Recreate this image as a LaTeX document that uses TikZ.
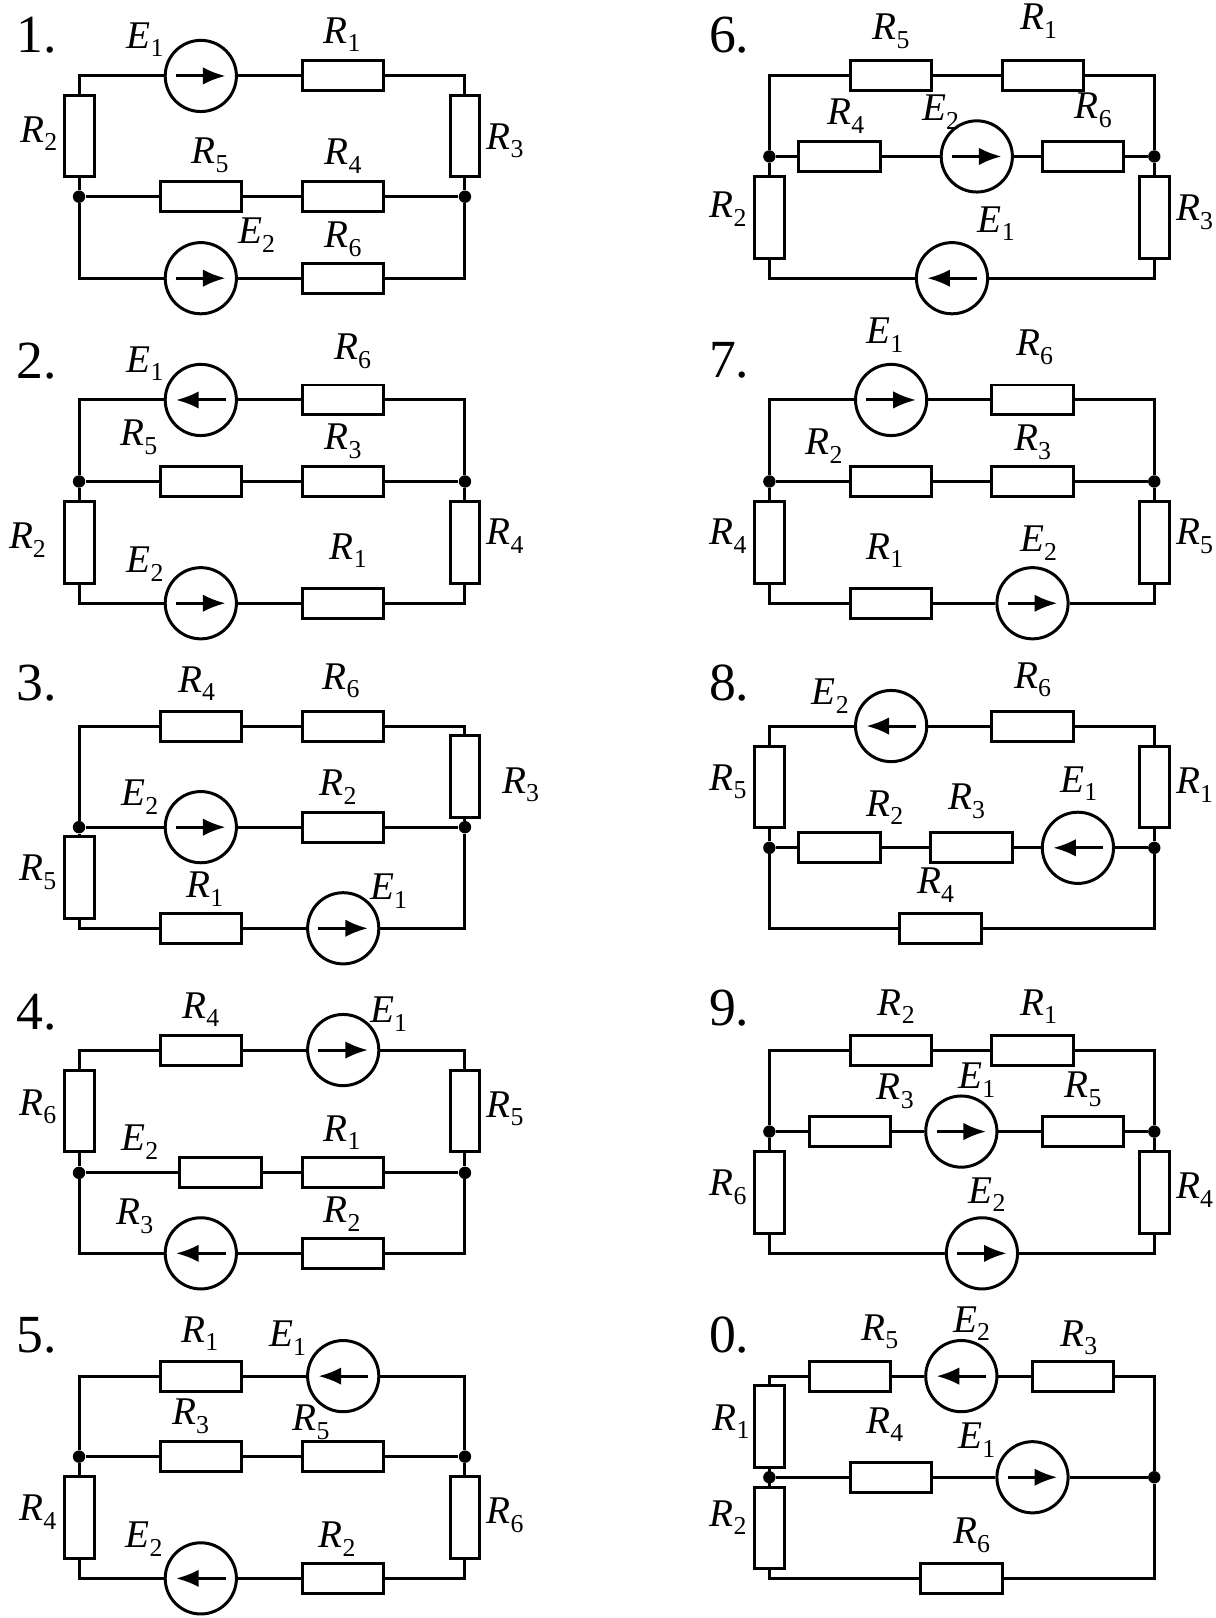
\documentclass[tikz,border=0pt]{standalone}
\usepackage{fontspec}
\setmainfont{Liberation Serif}
\usetikzlibrary{arrows.meta}
\tikzset{
  wire/.style={line width=1.45pt,line join=miter},
  resh/.style={draw,line width=1.45pt,rectangle,minimum width=39.5pt,minimum height=14.5pt,inner sep=0pt,fill=white},
  resv/.style={draw,line width=1.45pt,rectangle,minimum width=14.5pt,minimum height=39.5pt,inner sep=0pt,fill=white},
  srcc/.style={draw,line width=1.45pt,circle,minimum size=34.5pt,inner sep=0pt,fill=white},
  jdot/.style={circle,fill=black,minimum size=6pt,inner sep=0pt},
  srcarrow/.style={line width=1.45pt,-{Latex[length=11pt,width=8.5pt]}},
  lab/.style={inner sep=0pt,yshift=-0.5pt,font=\fontsize{19}{19}\selectfont},
  numlab/.style={inner sep=0pt,font=\fontsize{26}{26}\selectfont}
}
\newcommand{\RH}[3]{\node[resh] (#1) at (#2,#3) {};}
\newcommand{\RV}[3]{\node[resv] (#1) at (#2,#3) {};}
\newcommand{\SR}[3]{\node[srcc] (#1) at (#2,#3) {};
  \draw[srcarrow] ([xshift=-12pt]#1.center) -- ([xshift=12pt]#1.center);}
\newcommand{\SL}[3]{\node[srcc] (#1) at (#2,#3) {};
  \draw[srcarrow] ([xshift=12pt]#1.center) -- ([xshift=-12pt]#1.center);}
\newcommand{\JD}[3]{\node[jdot] (#1) at (#2,#3) {};}
\newcommand{\LB}[5]{\node[lab] (#1#4#5) at (#2,#3) {\textit{#4}\raisebox{-0.22em}{\fontsize{12.5}{12.5}\selectfont #5}};}
\newcommand{\NM}[4]{\node[numlab] (#1) at (#2,#3) {#4.};}
\newcommand{\WL}[2]{\draw[wire] (#1) -- (#2);}
\newcommand{\WV}[2]{\draw[wire] (#1) |- (#2);}
\newcommand{\WH}[2]{\draw[wire] (#1) -| (#2);}
\begin{document}
\begin{tikzpicture}[x=0.5pt,y=-0.5pt]
\path[use as bounding box,fill=white] (-0.6,-0.6) rectangle (1177.8,1567.4);
% ---- 1
\RV{aRb}{76}{131}\RV{aRc}{450}{131}\SR{aEa}{194}{73}\RH{aRa}{332}{73}
\JD{aJa}{76}{190}\JD{aJb}{450}{190}\RH{aRe}{194}{190}\RH{aRd}{332}{190}
\SR{aEb}{194}{269}\RH{aRf}{332}{269}
\WV{aRb.north}{aEa.west}\WL{aEa.east}{aRa.west}\WH{aRa.east}{aRc.north}
\WL{aRb.south}{aJa}\WL{aRc.south}{aJb}\WL{aJa}{aRe.west}\WL{aRe.east}{aRd.west}\WL{aRd.east}{aJb}
\WV{aJa}{aEb.west}\WL{aEb.east}{aRf.west}\WH{aRf.east}{aJb}
\NM{an}{35}{33}{1}\LB{a}{140}{37}{E}{1}\LB{a}{331}{32}{R}{1}\LB{a}{37}{128}{R}{2}\LB{a}{489}{135}{R}{3}
\LB{a}{203}{149}{R}{5}\LB{a}{332}{150}{R}{4}\LB{a}{248}{226}{E}{2}\LB{a}{332}{230}{R}{6}
% ---- 2
\SL{bEa}{194}{387}\RH{bRf}{332}{387}\JD{bJa}{76}{466}\JD{bJb}{450}{466}
\RH{bRe}{194}{466}\RH{bRc}{332}{466}\RV{bRb}{76}{525}\RV{bRd}{450}{525}
\SR{bEb}{194}{584}\RH{bRa}{332}{584}
\WV{bJa}{bEa.west}\WL{bEa.east}{bRf.west}\WH{bRf.east}{bJb}
\WL{bJa}{bRe.west}\WL{bRe.east}{bRc.west}\WL{bRc.east}{bJb}
\WL{bJa}{bRb.north}\WL{bJb}{bRd.north}
\WV{bRb.south}{bEb.west}\WL{bEb.east}{bRa.west}\WH{bRa.east}{bRd.south}
\NM{bn}{35}{349}{2}\LB{b}{140}{351}{E}{1}\LB{b}{341}{339}{R}{6}\LB{b}{134}{422}{R}{5}\LB{b}{332}{426}{R}{3}
\LB{b}{26}{522}{R}{2}\LB{b}{489}{518}{R}{4}\LB{b}{140}{545}{E}{2}\LB{b}{337}{532}{R}{1}
% ---- 3
\RH{cRd}{194}{703}\RH{cRf}{332}{703}\RV{cRc}{450}{752}\JD{cJa}{76}{801}\JD{cJb}{450}{801}
\SR{cEb}{194}{801}\RH{cRb}{332}{801}\RV{cRe}{76}{850}\RH{cRa}{194}{899}\SR{cEa}{332}{899}
\WV{cJa}{cRd.west}\WL{cRd.east}{cRf.west}\WH{cRf.east}{cRc.north}\WL{cRc.south}{cJb}
\WL{cJa}{cEb.west}\WL{cEb.east}{cRb.west}\WL{cRb.east}{cJb}\WL{cJa}{cRe.north}
\WV{cRe.south}{cRa.west}\WL{cRa.east}{cEa.west}\WH{cEa.east}{cJb}
\NM{cn}{35}{661}{3}\LB{c}{190}{661}{R}{4}\LB{c}{330}{658}{R}{6}\LB{c}{504}{759}{R}{3}\LB{c}{135}{771}{E}{2}
\LB{c}{327}{761}{R}{2}\LB{c}{36}{844}{R}{5}\LB{c}{198}{860}{R}{1}\LB{c}{376}{862}{E}{1}
% ---- 4
\RH{dRd}{194}{1017}\SR{dEa}{332}{1017}\RV{dRf}{76}{1076}\RV{dRe}{450}{1076}\JD{dJa}{76}{1136}\JD{dJb}{450}{1136}
\RH{dRx}{213}{1136}\RH{dRa}{332}{1136}\SL{dEb}{194}{1214}\RH{dRb}{332}{1214}
\WV{dRf.north}{dRd.west}\WL{dRd.east}{dEa.west}\WH{dEa.east}{dRe.north}
\WL{dRf.south}{dJa}\WL{dRe.south}{dJb}\WL{dJa}{dRx.west}\WL{dRx.east}{dRa.west}\WL{dRa.east}{dJb}
\WV{dJa}{dEb.west}\WL{dEb.east}{dRb.west}\WH{dRb.east}{dJb}
\NM{dn}{35}{980}{4}\LB{d}{194}{977}{R}{4}\LB{d}{376}{981}{E}{1}\LB{d}{36}{1071}{R}{6}\LB{d}{489}{1073}{R}{5}
\LB{d}{135}{1105}{E}{2}\LB{d}{331}{1096}{R}{1}\LB{d}{130}{1177}{R}{3}\LB{d}{331}{1175}{R}{2}
% ---- 5
\RH{eRa}{194}{1333}\SL{eEa}{332}{1333}\JD{eJa}{76}{1411}\JD{eJb}{450}{1411}\RH{eRc}{194}{1411}\RH{eRe}{332}{1411}
\RV{eRd}{76}{1470}\RV{eRf}{450}{1470}\SL{eEb}{194}{1529}\RH{eRb}{332}{1529}
\WV{eJa}{eRa.west}\WL{eRa.east}{eEa.west}\WH{eEa.east}{eJb}
\WL{eJa}{eRc.west}\WL{eRc.east}{eRe.west}\WL{eRe.east}{eJb}\WL{eJa}{eRd.north}\WL{eJb}{eRf.north}
\WV{eRd.south}{eEb.west}\WL{eEb.east}{eRb.west}\WH{eRb.east}{eRf.south}
\NM{en}{35}{1293}{5}\LB{e}{193}{1291}{R}{1}\LB{e}{278}{1295}{E}{1}\LB{e}{184}{1371}{R}{3}\LB{e}{301}{1377}{R}{5}
\LB{e}{36}{1464}{R}{4}\LB{e}{489}{1467}{R}{6}\LB{e}{139}{1490}{E}{2}\LB{e}{326}{1490}{R}{2}
% ---- 6
\RH{fRe}{863}{73}\RH{fRa}{1010}{73}\JD{fJa}{745}{151}\JD{fJb}{1118}{151}\RH{fRd}{813}{151}\SR{fEb}{946}{151}\RH{fRf}{1049}{151}
\RV{fRb}{745}{210}\RV{fRc}{1118}{210}\SL{fEa}{922}{269}
\WV{fJa}{fRe.west}\WL{fRe.east}{fRa.west}\WH{fRa.east}{fJb}
\WL{fJa}{fRd.west}\WL{fRd.east}{fEb.west}\WL{fEb.east}{fRf.west}\WL{fRf.east}{fJb}
\WL{fJa}{fRb.north}\WL{fJb}{fRc.north}\WV{fRb.south}{fEa.west}\WH{fEa.east}{fRc.south}
\NM{fn}{706}{33}{6}\LB{f}{863}{29}{R}{5}\LB{f}{1006}{19}{R}{1}\LB{f}{819}{111}{R}{4}\LB{f}{911}{107}{E}{2}
\LB{f}{1059}{105}{R}{6}\LB{f}{705}{201}{R}{2}\LB{f}{1157}{204}{R}{3}\LB{f}{965}{215}{E}{1}
% ---- 7
\SR{gEa}{863}{387}\RH{gRf}{1000}{387}\JD{gJa}{745}{466}\JD{gJb}{1118}{466}\RH{gRb}{863}{466}\RH{gRc}{1000}{466}
\RV{gRd}{745}{525}\RV{gRe}{1118}{525}\RH{gRa}{863}{584}\SR{gEb}{1000}{584}
\WV{gJa}{gEa.west}\WL{gEa.east}{gRf.west}\WH{gRf.east}{gJb}
\WL{gJa}{gRb.west}\WL{gRb.east}{gRc.west}\WL{gRc.east}{gJb}\WL{gJa}{gRd.north}\WL{gJb}{gRe.north}
\WV{gRd.south}{gRa.west}\WL{gRa.east}{gEb.west}\WH{gEb.east}{gRe.south}
\NM{gn}{706}{349}{7}\LB{g}{857}{323}{E}{1}\LB{g}{1002}{335}{R}{6}\LB{g}{798}{431}{R}{2}\LB{g}{1000}{427}{R}{3}
\LB{g}{705}{518}{R}{4}\LB{g}{1157}{518}{R}{5}\LB{g}{857}{532}{R}{1}\LB{g}{1006}{525}{E}{2}
% ---- 8
\SL{hEb}{863}{703}\RH{hRf}{1000}{703}\RV{hRe}{745}{762}\RV{hRa}{1118}{762}\JD{hJa}{745}{821}\JD{hJb}{1118}{821}
\RH{hRb}{813}{821}\RH{hRc}{941}{821}\SL{hEa}{1044}{821}\RH{hRd}{911}{899}
\WV{hRe.north}{hEb.west}\WL{hEb.east}{hRf.west}\WH{hRf.east}{hRa.north}
\WL{hRe.south}{hJa}\WL{hRa.south}{hJb}\WL{hJa}{hRb.west}\WL{hRb.east}{hRc.west}\WL{hRc.east}{hEa.west}\WL{hEa.east}{hJb}
\WV{hJa}{hRd.west}\WH{hRd.east}{hJb}
\NM{hn}{706}{661}{8}\LB{h}{804}{673}{E}{2}\LB{h}{1000}{657}{R}{6}\LB{h}{705}{756}{R}{5}\LB{h}{1157}{759}{R}{1}
\LB{h}{857}{781}{R}{2}\LB{h}{936}{775}{R}{3}\LB{h}{1045}{758}{E}{1}\LB{h}{906}{856}{R}{4}
% ---- 9
\RH{iRb}{863}{1017}\RH{iRa}{1000}{1017}\JD{iJa}{745}{1096}\JD{iJb}{1118}{1096}\RH{iRc}{823}{1096}\SR{iEa}{931}{1096}\RH{iRe}{1049}{1096}
\RV{iRf}{745}{1155}\RV{iRd}{1118}{1155}\SR{iEb}{951}{1214}
\WV{iJa}{iRb.west}\WL{iRb.east}{iRa.west}\WH{iRa.east}{iJb}
\WL{iJa}{iRc.west}\WL{iRc.east}{iEa.west}\WL{iEa.east}{iRe.west}\WL{iRe.east}{iJb}
\WL{iJa}{iRf.north}\WL{iJb}{iRd.north}\WV{iRf.south}{iEb.west}\WH{iEb.east}{iRd.south}
\NM{in}{706}{976}{9}\LB{i}{868}{974}{R}{2}\LB{i}{1006}{974}{R}{1}\LB{i}{867}{1056}{R}{3}\LB{i}{946}{1045}{E}{1}
\LB{i}{1049}{1054}{R}{5}\LB{i}{705}{1149}{R}{6}\LB{i}{1157}{1152}{R}{4}\LB{i}{956}{1156}{E}{2}
% ---- 0
\RH{jRe}{823}{1333}\SL{jEb}{931}{1333}\RH{jRc}{1039}{1333}\RV{jRa}{745}{1382}\RV{jRb}{745}{1480}
\JD{jJa}{745}{1431}\JD{jJb}{1118}{1431}\RH{jRd}{863}{1431}\SR{jEa}{1000}{1431}\RH{jRf}{931}{1529}
\WV{jRa.north}{jRe.west}\WL{jRe.east}{jEb.west}\WL{jEb.east}{jRc.west}\WH{jRc.east}{jJb}
\WL{jRa.south}{jRb.north}\WL{jJa}{jRd.west}\WL{jRd.east}{jEa.west}\WL{jEa.east}{jJb}
\WV{jRb.south}{jRf.west}\WH{jRf.east}{jJb}
\NM{jn}{706}{1293}{0}\LB{j}{852}{1289}{R}{5}\LB{j}{941}{1281}{E}{2}\LB{j}{1045}{1295}{R}{3}\LB{j}{708}{1376}{R}{1}
\LB{j}{857}{1379}{R}{4}\LB{j}{946}{1394}{E}{1}\LB{j}{705}{1469}{R}{2}\LB{j}{941}{1486}{R}{6}
\end{tikzpicture}
\end{document}
